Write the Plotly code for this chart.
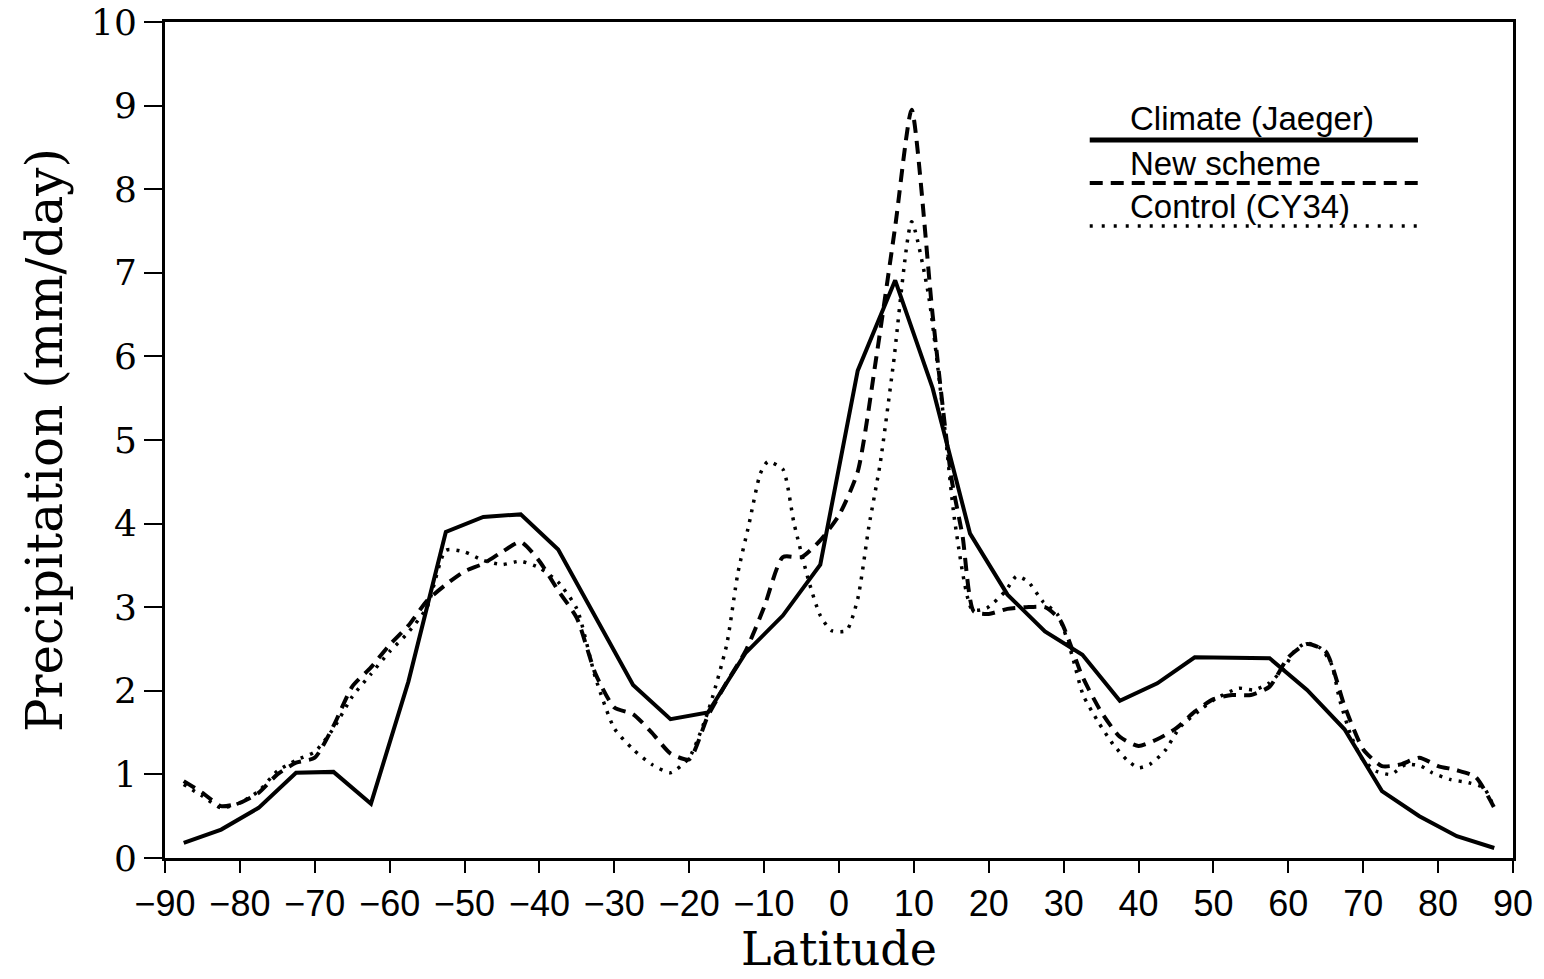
import plotly.graph_objects as go

# ---- data ----
lat_climate = [-87.5, -82.5, -77.5, -72.5, -67.5, -62.5, -57.5, -52.5, -47.5, -42.5,
               -37.5, -32.5, -27.5, -22.5, -17.5, -12.5, -7.5, -2.5, 2.5, 7.5,
               12.5, 17.5, 22.5, 27.5, 32.5, 37.5, 42.5, 47.5, 52.5, 57.5,
               62.5, 67.5, 72.5, 77.5, 82.5, 87.5]
climate = [0.18, 0.34, 0.60, 1.02, 1.03, 0.65, 2.11, 3.90, 4.08, 4.11,
           3.69, 2.88, 2.07, 1.66, 1.74, 2.45, 2.90, 3.51, 5.83, 6.91,
           5.62, 3.88, 3.15, 2.71, 2.43, 1.88, 2.09, 2.40, 2.40, 2.39,
           2.01, 1.54, 0.80, 0.50, 0.26, 0.12]

lat_new = [-87.5, -85, -82.5, -80, -77.5, -75, -72.5, -70, -67.5, -65, -62.5, -60,
           -57.5, -55, -52.5, -50, -47.5, -45, -42.5, -40, -37.5, -35, -32.5, -30,
           -27.5, -25, -22.5, -20, -17.5, -15, -12.5, -10, -7.5, -5, -2.5, 0,
           2.5, 5, 7.5, 9.7, 12.5, 15, 16.5, 18, 20, 22.5, 25, 27.5, 29.5, 32.5,
           35, 37.5, 40, 42.5, 45, 47.5, 50, 52.5, 55, 57.5, 60, 62.5, 65, 67.5,
           70, 72.5, 75, 77.5, 80, 82.5, 85, 87.5]
new_scheme = [0.92, 0.78, 0.62, 0.66, 0.78, 1.00, 1.14, 1.20, 1.58, 2.05, 2.28, 2.55,
              2.78, 3.08, 3.27, 3.43, 3.52, 3.66, 3.78, 3.55, 3.20, 2.87, 2.20, 1.80,
              1.72, 1.50, 1.25, 1.18, 1.70, 2.10, 2.47, 3.00, 3.60, 3.60, 3.80, 4.10,
              4.62, 6.00, 7.55, 8.95, 6.50, 4.55, 3.85, 2.95, 2.92, 2.98, 3.00, 3.00, 2.85, 2.17,
              1.75, 1.45, 1.34, 1.42, 1.55, 1.75, 1.90, 1.95, 1.95, 2.05, 2.40, 2.56, 2.47, 1.82,
              1.30, 1.10, 1.12, 1.20, 1.10, 1.05, 0.97, 0.60]

lat_control = [-87.5, -85, -82.5, -80, -77.5, -75, -72.5, -70, -67.5, -65, -62.5, -60,
               -57.5, -55, -52.5, -50, -47.5, -45, -42.5, -40, -37.5, -35, -32.5, -30,
               -27.5, -25, -22.5, -20, -17.5, -15, -13.5, -12, -10.5, -9.5, -7.5, -6,
               -4, -2.5, -1, 1, 2.5, 4, 5.5, 7.25, 9.7, 11.9, 13.9, 15.5, 17.8, 19.75,
               22.2, 23.7, 25.2, 27.2, 29.2, 31.1, 32.6, 34.6, 36.6, 38.6, 40, 41.5,
               43.5, 45.5, 48.5, 50.4, 53.4, 55.4, 57.4, 59.4, 60.8, 62.3, 64.3, 65.8,
               66.8, 68.3, 69.75, 71.7, 73.7, 75.7, 77.7, 79.2, 81.6, 84.1, 86.1, 87.5]
control = [0.88, 0.74, 0.60, 0.66, 0.80, 1.04, 1.17, 1.27, 1.55, 1.93, 2.20, 2.47,
           2.70, 3.00, 3.68, 3.66, 3.56, 3.51, 3.55, 3.47, 3.30, 2.98, 2.15, 1.55,
           1.30, 1.12, 1.02, 1.20, 1.75, 2.55, 3.41, 4.00, 4.60, 4.74, 4.65, 4.00,
           3.30, 2.90, 2.72, 2.72, 3.10, 3.97, 4.72, 5.90, 7.61, 6.76, 5.32, 4.00, 2.97, 2.99,
           3.19, 3.37, 3.31, 3.07, 2.91, 2.43, 1.95, 1.63, 1.36, 1.16, 1.08, 1.12,
           1.28, 1.56, 1.79, 1.91, 2.03, 2.01, 2.09, 2.27, 2.47, 2.57, 2.51, 2.31,
           1.91, 1.48, 1.20, 1.04, 1.00, 1.12, 1.10, 1.02, 0.94, 0.90, 0.84, 0.60]

x_ticks = list(range(-90, 91, 10))
x_ticktext = [("\u2212" + str(-v)) if v < 0 else str(v) for v in x_ticks]
y_ticks = list(range(0, 11))

series_names = ["Climate (Jaeger)", "New scheme", "Control (CY34)"]
x_title = "Latitude"
y_title = "Precipitation (mm/day)"

# ---- figure ----
fig = go.Figure()
fig.add_trace(go.Scatter(x=lat_climate, y=climate, mode="lines", name=series_names[0],
                         line=dict(color="black", width=4), showlegend=False))
fig.add_trace(go.Scatter(x=lat_new, y=new_scheme, mode="lines", name=series_names[1],
                         line=dict(color="black", width=4, dash="13px,8px",
                                   shape="spline", smoothing=0.6), showlegend=False))
fig.add_trace(go.Scatter(x=lat_control, y=control, mode="lines", name=series_names[2],
                         line=dict(color="black", width=3.5, dash="3px,7px",
                                   shape="spline", smoothing=0.6), showlegend=False))

# custom legend: text above a sample line
legend_dash = ["solid", "13px,8px", "3px,9px"]
legend_width = [5, 4, 3.5]
text_y = [0.885, 0.8313, 0.7799]
line_y = [0.8589, 0.8074, 0.756]
for i, name in enumerate(series_names):
    fig.add_annotation(x=0.7144, y=text_y[i], xref="paper", yref="paper", text=name,
                       showarrow=False, xanchor="left", yanchor="middle",
                       font=dict(family="Liberation Sans", size=33, color="black"))
    fig.add_shape(type="line", xref="paper", yref="paper", x0=0.686, x1=0.9295,
                  y0=line_y[i], y1=line_y[i],
                  line=dict(color="black", width=legend_width[i], dash=legend_dash[i]))

# axis titles
fig.add_annotation(x=0.5, y=-0.1435, xref="paper", yref="paper", text=x_title,
                   showarrow=False, xanchor="center", yanchor="bottom",
                   font=dict(family="DejaVu Serif", size=46, color="black"))
fig.add_annotation(x=-0.089, y=0.5, xref="paper", yref="paper", text=y_title,
                   showarrow=False, xanchor="center", yanchor="middle", textangle=-90,
                   font=dict(family="DejaVu Serif", size=50, color="black"))

fig.update_layout(
    width=1544, height=979,
    margin=dict(l=165, r=31, t=22, b=121, autoexpand=False),
    paper_bgcolor="white", plot_bgcolor="white",
    showlegend=False,
)
fig.update_xaxes(
    range=[-90, 90], tickvals=x_ticks, ticktext=x_ticktext,
    ticks="outside", ticklen=12, tickwidth=2, tickcolor="black",
    showgrid=False, zeroline=False, automargin=False,
    showline=True, linecolor="black", linewidth=3, mirror=True,
    tickfont=dict(family="Liberation Sans", size=36, color="black"),
)
fig.update_yaxes(
    range=[0, 10], tickvals=y_ticks,
    ticks="outside", ticklen=18, tickwidth=2, tickcolor="black",
    showgrid=False, zeroline=False, automargin=False,
    showline=True, linecolor="black", linewidth=3, mirror=True,
    tickfont=dict(family="DejaVu Serif", size=36, color="black"),
)

fig.write_html("out.html", config={"displayModeBar": False},
               post_script="document.body.style.margin='0';document.body.style.overflow='hidden';")
